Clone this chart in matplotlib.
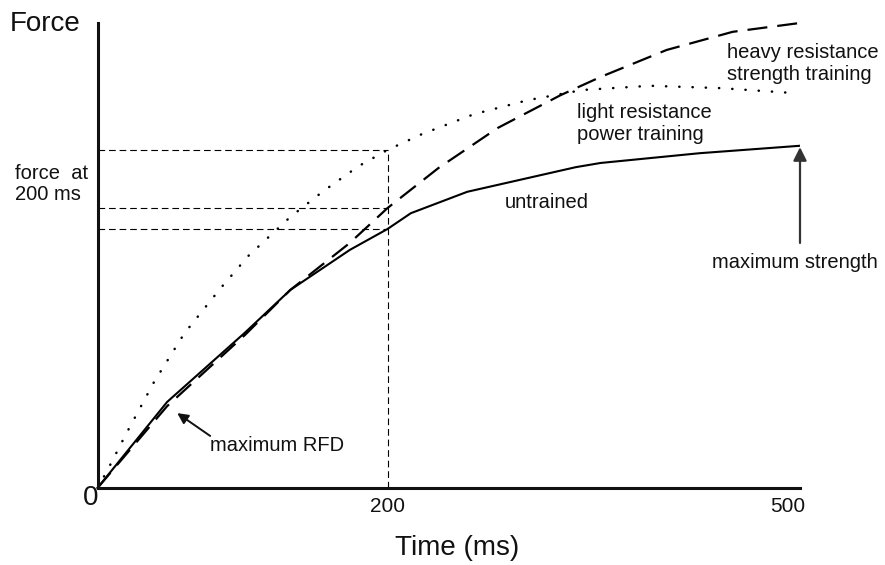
import numpy as np
import matplotlib
matplotlib.use("Agg")
import matplotlib.pyplot as plt

plt.rcParams['font.family'] = ['Liberation Sans', 'DejaVu Sans']

# Time axis (ms) and force (arbitrary units, 0-100) for the three conditions
untrained_t = [0, 48, 102, 133, 174, 200, 217, 258, 337, 355, 427, 500]
untrained_f = [0, 18.5, 33.5, 42.6, 51.2, 55.7, 59.1, 63.7, 69.0, 69.9, 72.0, 73.6]

heavy_t = [0, 48, 102, 133, 174, 200, 237, 280, 326, 355, 403, 451, 505]
heavy_f = [0, 17.6, 33.0, 42.6, 52.7, 60.2, 68.8, 77.4, 84.5, 88.4, 94.2, 98.1, 100.2]

light_t = [0, 7, 20, 39, 60, 85, 104, 133, 156, 180, 200, 225, 263, 302, 342, 391, 442, 497]
light_f = [0, 3.9, 11.8, 22.8, 33.3, 43.0, 49.9, 58.3, 63.9, 69.2, 72.7, 76.1, 80.4,
           83.4, 85.6, 86.5, 86.0, 84.9]

x_ticks = [0, 200, 500]
x_tick_labels = ["0", "200", "500"]
ref_time = 200

W, H, DPI = 885, 565, 100
fig = plt.figure(figsize=(W / DPI, H / DPI), dpi=DPI)
ax = fig.add_axes([97.5 / W, (H - 488) / H, (800 - 97.5) / W, (488 - 23) / H])


# schematic time axis: first 200 ms drawn a little wider than the rest
def fwd(x):
    x = np.asarray(x, dtype=float)
    return np.where(x <= 200, x * 1.45, 290 + (x - 200) * 1.375)


def inv(u):
    u = np.asarray(u, dtype=float)
    return np.where(u <= 290, u / 1.45, 200 + (u - 290) / 1.375)


ax.set_xscale('function', functions=(fwd, inv))
ax.set_xlim(0, 500)
ax.set_ylim(0, 100)

for s in ['top', 'right']:
    ax.spines[s].set_visible(False)
for s in ['left', 'bottom']:
    ax.spines[s].set_linewidth(2.2)
    ax.spines[s].set_color('#111111')
ax.set_xticks([])
ax.set_yticks([])

# curves
ax.plot(untrained_t, untrained_f, color='black', lw=1.5, solid_capstyle='butt', clip_on=False)
ax.plot(heavy_t, heavy_f, color='black', lw=1.6, dashes=(9, 4.5), clip_on=False)
ax.plot(light_t, light_f, color='black', lw=1.8, dashes=(0.1, 5.2),
        dash_capstyle='round', clip_on=False)

# reference lines at 200 ms
f200 = [np.interp(ref_time, t, f) for t, f in
        [(light_t, light_f), (heavy_t, heavy_f), (untrained_t, untrained_f)]]
for fv in f200:
    ax.plot([0, ref_time], [fv, fv], color='black', lw=0.8, dashes=(6, 3.5))
ax.plot([ref_time, ref_time], [0, max(f200)], color='black', lw=0.8, dashes=(6, 3.5))

# tick labels
ax.annotate(x_tick_labels[0], (x_ticks[0], 0), xytext=(-7, -10), textcoords='offset pixels',
            ha='center', va='center', fontsize=20, color='#111111', annotation_clip=False)
ax.annotate(x_tick_labels[1], (x_ticks[1], 0), xytext=(0, -18), textcoords='offset pixels',
            ha='center', va='center', fontsize=15, color='#111111', annotation_clip=False)
ax.annotate(x_tick_labels[2], (x_ticks[2], 0), xytext=(-12, -18), textcoords='offset pixels',
            ha='center', va='center', fontsize=15, color='#111111', annotation_clip=False)

# axis titles
fig.text(10 / W, 1 - 24 / H, "Force", fontsize=20, ha='left', va='center', color='#111111')
fig.text(457 / W, 1 - 548 / H, "Time (ms)", fontsize=20, ha='center', va='center', color='#111111')
fig.text(15 / W, 1 - 184 / H, "force  at\n200 ms", fontsize=14.5, ha='left', va='center',
         linespacing=1.15, color='#111111')

# curve labels
lab = dict(fontsize=14.5, ha='left', va='center', color='#111111', linespacing=1.15)
ax.text(285, 61.5, "untrained", **lab)
ax.text(338, 78.4, "light resistance\npower training", **lab)
ax.text(447, 91.3, "heavy resistance\nstrength training", **lab)

# annotations with arrows
ax.annotate("maximum strength", xy=(500, untrained_f[-1]), xytext=(436, 48.4),
            fontsize=14.5, ha='left', va='center', color='#111111',
            annotation_clip=False)
ax.annotate("", xy=(500, untrained_f[-1] - 0.3), xytext=(500, 52.7),
            arrowprops=dict(arrowstyle='-|>', color='#333333', lw=1.6,
                            mutation_scale=20, shrinkA=0, shrinkB=0))
ax.annotate("maximum RFD", xy=(55, 16.1), xytext=(77.7, 9.2),
            fontsize=14.5, ha='left', va='center', color='#111111')
ax.annotate("", xy=(55, 16.1), xytext=(77.7, 11.2),
            arrowprops=dict(arrowstyle='-|>', color='#111111', lw=1.4,
                            mutation_scale=16, shrinkA=0, shrinkB=0))

fig.savefig("out.png", dpi=DPI)
